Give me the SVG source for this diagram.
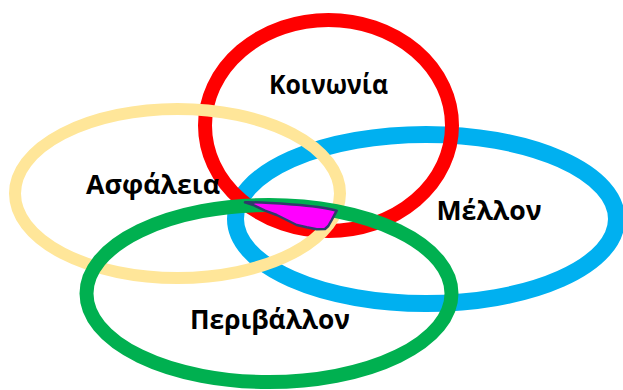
<svg xmlns="http://www.w3.org/2000/svg" width="623" height="390" viewBox="0 0 623 390">
<style>
.ring{fill:none}
.lbl{font-family:"Open Sans","Noto Sans","Liberation Sans",sans-serif;font-weight:bold;font-size:27px;fill:#000;text-anchor:middle}
</style>
<rect width="623" height="390" fill="#fff"/>
<g id="melon">
<ellipse class="ring" cx="426" cy="219" rx="190.5" ry="84.5" stroke="#00B0F0" stroke-width="17"/>
<text class="lbl" x="489" y="220" textLength="105" lengthAdjust="spacingAndGlyphs">Μέλλον</text>
</g>
<g id="koinonia">
<ellipse class="ring" cx="328.5" cy="125.5" rx="123.5" ry="105.5" stroke="#FF0000" stroke-width="14"/>
<text class="lbl" x="328.5" y="93.5" textLength="119" lengthAdjust="spacingAndGlyphs">Κοινωνία</text>
</g>
<g id="asfaleia">
<ellipse class="ring" cx="177.5" cy="193.5" rx="162.5" ry="84.5" stroke="#FFE699" stroke-width="12"/>
<text class="lbl" x="153" y="193.5" textLength="134" lengthAdjust="spacingAndGlyphs">Ασφάλεια</text>
</g>
<g id="perivallon">
<ellipse class="ring" cx="269" cy="293.5" rx="182.5" ry="88.5" stroke="#00B050" stroke-width="14"/>
<text class="lbl" x="270" y="329" textLength="160" lengthAdjust="spacingAndGlyphs">Περιβάλλον</text>
</g>
<g id="intersection">
<path d="M245,202.3 C260,202 285,204 300,205 C315,206.5 328,208 336.7,210.7 L331.7,220 L328.3,226 L325,229 L316.7,229.3 L306.7,227.3 L296.7,225 L286.7,220 L276.7,215 L265,210.7 L253.3,205 Z" fill="#FF00FF" stroke="#2F3A6B" stroke-width="2.5" stroke-linejoin="round"/>
</g>
<g id="connectors"></g>
</svg>
